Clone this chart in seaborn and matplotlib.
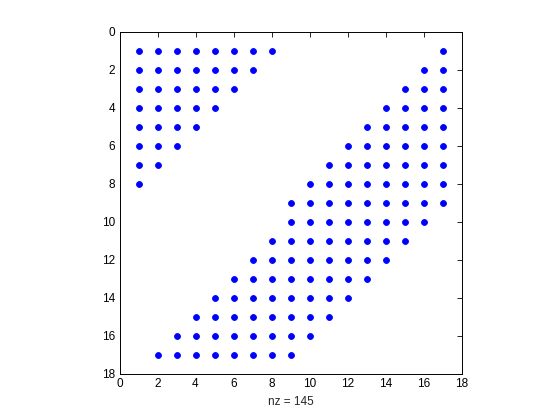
import matplotlib
matplotlib.use("Agg")
import matplotlib.pyplot as plt
import numpy as np
import pandas as pd
import seaborn as sns

# nonzero pattern, row by row: first and last nonzero column of each run
upper_rows = [1, 2, 3, 4, 5, 6, 7, 8]
upper_first = [1, 1, 1, 1, 1, 1, 1, 1]
upper_last = [8, 7, 6, 5, 4, 3, 2, 1]

band_rows = [1, 2, 3, 4, 5, 6, 7, 8, 9, 10, 11, 12, 13, 14, 15, 16, 17]
band_first = [17, 16, 15, 14, 13, 12, 11, 10, 9, 9, 8, 7, 6, 5, 4, 3, 2]
band_last = [17, 17, 17, 17, 17, 17, 17, 17, 17, 16, 15, 14, 13, 12, 11, 10, 9]

ticks = [0, 2, 4, 6, 8, 10, 12, 14, 16, 18]


def expand(rows, first, last):
    pts = []
    for r, a, b in zip(rows, first, last):
        for c in range(a, b + 1):
            pts.append((r, c))
    return pts


pts = expand(upper_rows, upper_first, upper_last) + expand(band_rows, band_first, band_last)
df = pd.DataFrame(pts, columns=["row", "col"])

sns.set_style("white")
plt.rcParams["font.family"] = ["Liberation Sans", "DejaVu Sans"]

fig = plt.figure(figsize=(5.6, 4.2), dpi=100)
ax = fig.add_axes([119.5 / 560, 46 / 420, 342 / 560, 342 / 420])

sns.scatterplot(data=df, x="col", y="row", ax=ax, marker="o", s=18,
                color=(0, 0, 1), edgecolor=(0, 0, 1), linewidth=0.6, legend=False)

ax.set_xlim(0, 18)
ax.set_ylim(18, 0)
ax.set_xticks(ticks)
ax.set_yticks(ticks)
ax.tick_params(direction="in", length=3.5, width=0.6, top=True, right=True,
               labelsize=8.5, colors="black", pad=3)
for s in ax.spines.values():
    s.set_visible(True)
    s.set_color("black")
    s.set_linewidth(0.7)
ax.set_xlabel(f"nz = {len(df)}", fontsize=8.5, labelpad=4)
ax.set_ylabel("")

fig.savefig("out.png", dpi=100)
